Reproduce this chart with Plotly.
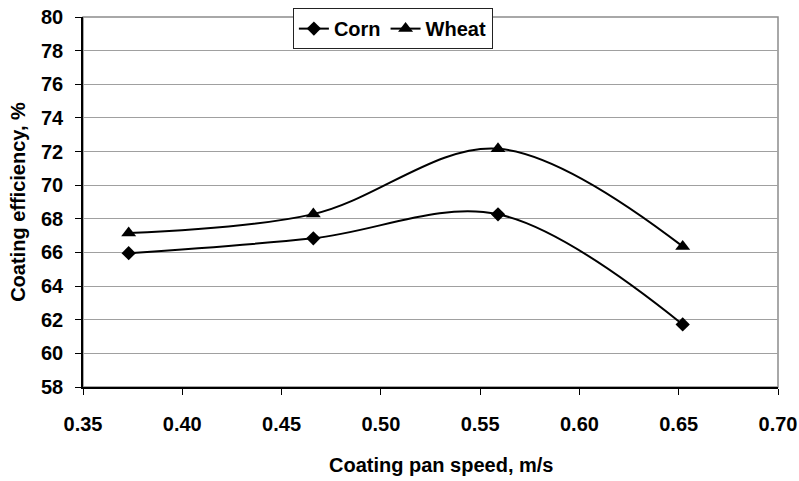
import plotly.graph_objects as go

speed = [0.373, 0.466, 0.559, 0.652]
corn = [65.96, 66.84, 68.27, 61.72]
wheat = [67.15, 68.28, 72.17, 66.36]
x_ticks = [0.35, 0.40, 0.45, 0.50, 0.55, 0.60, 0.65, 0.70]
x_tick_labels = ["0.35", "0.40", "0.45", "0.50", "0.55", "0.60", "0.65", "0.70"]
y_ticks = list(range(58, 81, 2))

FONT = "Liberation Sans, Arial, sans-serif"
FS = 20

fig = go.Figure()
fig.add_trace(go.Scatter(
    x=speed, y=corn, name="<b>Corn</b>", mode="lines+markers",
    line=dict(color="black", width=2, shape="spline", smoothing=1),
    marker=dict(symbol="diamond", size=11, color="black"),
))
fig.add_trace(go.Scatter(
    x=speed, y=wheat, name="<b>Wheat</b>", mode="lines+markers",
    line=dict(color="black", width=2, shape="spline", smoothing=1),
    marker=dict(symbol="triangle-up", size=13, color="black"),
))

fig.update_layout(
    width=799, height=481,
    margin=dict(l=83, r=21, t=17, b=94, autoexpand=False),
    paper_bgcolor="white", plot_bgcolor="white",
    font=dict(family=FONT, size=FS, color="black"),
    showlegend=True,
    legend=dict(
        orientation="h", x=0.302, y=1.024, xanchor="left", yanchor="top",
        bgcolor="white", bordercolor="#222", borderwidth=1,
        font=dict(family=FONT, size=FS, color="black"),
        itemwidth=30, tracegroupgap=0,
    ),
    shapes=[dict(type="rect", xref="paper", yref="paper", x0=0, y0=0, x1=1, y1=1,
                 line=dict(color="#8c8c8c", width=1.5), layer="below")],
    annotations=[dict(text="<b>Coating pan speed, m/s</b>", xref="paper", yref="paper",
                      x=0.515, y=-0.212, xanchor="center", yanchor="middle",
                      showarrow=False, font=dict(family=FONT, size=FS, color="black"))],
)

fig.update_xaxes(
    range=[0.35, 0.70], tickvals=x_ticks, ticktext=["<b>%s</b>" % t for t in x_tick_labels],
    showgrid=False, zeroline=False, showline=True, linecolor="black", linewidth=1.5,
    ticks="outside", ticklen=6, tickcolor="black", ticklabelstandoff=12,
)
fig.update_yaxes(
    range=[58, 80], tickvals=y_ticks, ticktext=["<b>%d</b>" % v for v in y_ticks],
    showgrid=True, gridcolor="#a0a0a0", gridwidth=1.3,
    zeroline=False, showline=True, linecolor="black", linewidth=1.5,
    ticks="outside", ticklen=6, tickcolor="black", ticklabelstandoff=8,
    title=dict(text="<b>Coating efficiency, %</b>", standoff=10,
               font=dict(family=FONT, size=FS, color="black")),
)

fig.write_html("out.html", config={"displayModeBar": False},
               post_script="document.body.style.margin='0';")
